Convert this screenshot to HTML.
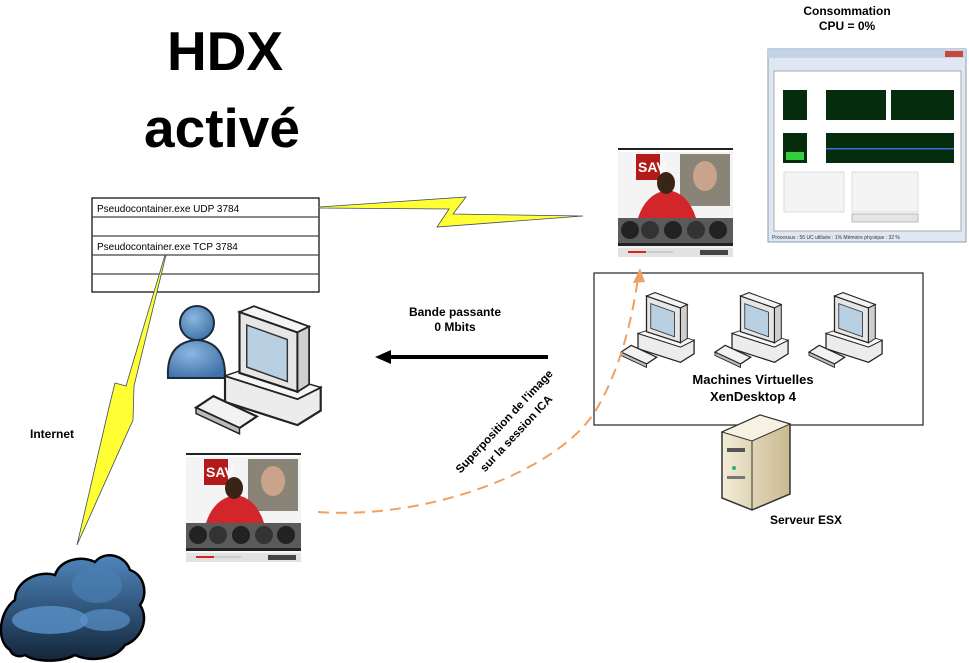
<!DOCTYPE html>
<html><head><meta charset="utf-8"><style>
body{margin:0;background:#fff;}
svg{display:block;font-family:"Liberation Sans",Arial,sans-serif;}
</style></head><body>
<svg width="969" height="663" viewBox="0 0 969 663" xmlns="http://www.w3.org/2000/svg">
<defs>
<linearGradient id="cl" x1="0" y1="0" x2="0" y2="1"><stop offset="0" stop-color="#4f86bd"/><stop offset="1" stop-color="#13253a"/></linearGradient>
<radialGradient id="usr" cx="0.4" cy="0.35" r="0.7"><stop offset="0" stop-color="#8bb6e0"/><stop offset="1" stop-color="#3f72a8"/></radialGradient>
<linearGradient id="srv" x1="0" y1="0" x2="1" y2="0"><stop offset="0" stop-color="#f3ecd6"/><stop offset="1" stop-color="#c8b990"/></linearGradient>
<g id="pc">
  <polygon points="20,44 70,60 86,52 86,68 70,78 20,62" fill="#ececec" stroke="#222" stroke-width="1.5"/>
  <polygon points="20,44 38,38 86,52 70,60" fill="#f7f7f7" stroke="#222"/>
  <polygon points="30,0 70,14 70,55 30,42" fill="#e6e6e6" stroke="#222" stroke-width="1.5"/>
  <polygon points="30,0 40,-4 78,10 70,14" fill="#f4f4f4" stroke="#222" stroke-width="1.2"/>
  <polygon points="70,14 78,10 78,50 70,55" fill="#cfcfcf" stroke="#222" stroke-width="1.2"/>
  <polygon points="35,9 63,19 63,48 35,38" fill="#b9cfe2" stroke="#333"/>
  <polygon points="0,66 12,58 42,72 30,80" fill="#f2f2f2" stroke="#222" stroke-width="1.5"/>
  <polygon points="0,66 30,80 30,84 0,70" fill="#bbb" stroke="#222"/>
</g>
<g id="vid">
  <rect x="0" y="0" width="115" height="2" fill="#222"/>
  <rect x="0" y="4" width="115" height="96" fill="#f4f4f4"/>
  <rect x="62" y="6" width="50" height="52" fill="#8a8478"/>
  <ellipse cx="87" cy="28" rx="12" ry="15" fill="#c9a48a"/>
  <rect x="18" y="6" width="24" height="26" fill="#b31b1b"/>
  <text x="20" y="24" font-size="14" font-weight="bold" fill="#fff">SAV</text>
  <path d="M20,70 Q28,45 50,42 Q70,45 78,70 Z" fill="#d3262a"/>
  <ellipse cx="48" cy="35" rx="9" ry="11" fill="#3a2418"/>
  <rect x="0" y="70" width="115" height="26" fill="#5a5a5a"/>
  <circle cx="12" cy="82" r="9" fill="#222"/><circle cx="32" cy="82" r="9" fill="#333"/><circle cx="55" cy="82" r="9" fill="#222"/><circle cx="78" cy="82" r="9" fill="#333"/><circle cx="100" cy="82" r="9" fill="#222"/>
  <rect x="0" y="95" width="115" height="3" fill="#222"/>
  <rect x="0" y="100" width="115" height="9" fill="#e2e2e2"/>
  <rect x="10" y="103" width="45" height="2" fill="#ccc"/><rect x="10" y="103" width="18" height="2" fill="#d22"/>
  <rect x="82" y="102" width="28" height="5" fill="#444"/>
</g>
</defs>

<text x="225" y="70" font-size="55" font-weight="bold" text-anchor="middle">HDX</text>
<text x="222" y="147" font-size="55" font-weight="bold" text-anchor="middle">activé</text>

<text x="847" y="15" font-size="12" font-weight="bold" text-anchor="middle">Consommation</text>
<text x="847" y="30" font-size="12" font-weight="bold" text-anchor="middle">CPU = 0%</text>

<!-- table -->
<g stroke="#444" stroke-width="1.2" fill="none">
<rect x="92" y="198" width="227" height="94" stroke="#000"/>
<line x1="92" y1="217" x2="319" y2="217"/><line x1="92" y1="236" x2="319" y2="236"/><line x1="92" y1="255" x2="319" y2="255"/><line x1="92" y1="274" x2="319" y2="274"/>
</g>
<text x="97" y="212" font-size="10">Pseudocontainer.exe UDP 3784</text>
<text x="97" y="250" font-size="10">Pseudocontainer.exe TCP 3784</text>

<!-- bolts -->
<polygon points="319,207 466,197 453,214 583,216 437,227 449,209 319,208" fill="#ffff33" stroke="#3d4a6a" stroke-width="0.8"/>
<polygon points="166,255 134,386 133,420 77,545 110,403 115,383 126,386 165,255" fill="#ffff33" stroke="#3d4a6a" stroke-width="0.8"/>

<!-- task manager -->
<rect x="768" y="49" width="198" height="193" fill="#dfe8f2" stroke="#8a9bb0"/>
<rect x="768" y="49" width="198" height="9" fill="#c2d4e6"/>
<rect x="945" y="51" width="18" height="6" fill="#c9473c"/>
<rect x="774" y="71" width="187" height="160" fill="#fff" stroke="#aaa"/>
<rect x="783" y="90" width="24" height="30" fill="#062c0e"/><rect x="826" y="90" width="60" height="30" fill="#062c0e"/><rect x="891" y="90" width="63" height="30" fill="#062c0e"/>
<rect x="783" y="133" width="24" height="30" fill="#062c0e"/><rect x="786" y="152" width="18" height="8" fill="#2fd03c"/>
<rect x="826" y="133" width="128" height="30" fill="#062c0e"/><rect x="826" y="148" width="128" height="1.5" fill="#3a6ed8"/>
<rect x="784" y="172" width="60" height="40" fill="#f4f4f4" stroke="#ddd"/><rect x="852" y="172" width="66" height="40" fill="#f4f4f4" stroke="#ddd"/><rect x="852" y="214" width="66" height="8" fill="#e4e4e4" stroke="#bbb"/>
<text x="772" y="239" font-size="5" fill="#333">Processus : 56     UC utilisée : 1%      Mémoire physique : 32 %</text>

<!-- top video -->
<use href="#vid" x="618" y="148"/>

<!-- VM box -->
<rect x="594" y="273" width="329" height="152" fill="#fff" stroke="#222" stroke-width="1.2"/>
<use href="#pc" transform="translate(621,296) scale(0.85)"/>
<use href="#pc" transform="translate(715,296) scale(0.85)"/>
<use href="#pc" transform="translate(809,296) scale(0.85)"/>
<text x="753" y="384" font-size="13" font-weight="bold" text-anchor="middle">Machines Virtuelles</text>
<text x="753" y="401" font-size="13" font-weight="bold" text-anchor="middle">XenDesktop 4</text>

<!-- server -->
<polygon points="722,432 760,415 790,424 790,494 752,510 722,498" fill="url(#srv)" stroke="#333" stroke-width="1.5"/>
<polygon points="722,432 760,415 790,424 752,441" fill="#f6f1e2" stroke="#333"/>
<line x1="752" y1="441" x2="752" y2="510" stroke="#333"/>
<rect x="727" y="448" width="18" height="4" fill="#555"/><rect x="727" y="476" width="18" height="3" fill="#777"/><circle cx="734" cy="468" r="2" fill="#3a8"/>
<text x="770" y="524" font-size="12" font-weight="bold">Serveur ESX</text>

<!-- arrow -->
<line x1="548" y1="357" x2="388" y2="357" stroke="#000" stroke-width="4"/>
<polygon points="375,357 391,350 391,364" fill="#000"/>
<text x="455" y="316" font-size="12" font-weight="bold" text-anchor="middle">Bande passante</text>
<text x="455" y="331" font-size="12" font-weight="bold" text-anchor="middle">0 Mbits</text>

<!-- orange dashed -->
<path d="M318,512 C430,520 560,470 596,410 C620,370 632,320 638,278" fill="none" stroke="#f0a060" stroke-width="2" stroke-dasharray="11,7"/>
<polygon points="640,268 633,283 645,282" fill="#f0a060"/>
<text transform="translate(507,424) rotate(-47)" font-size="11.5" font-weight="bold" text-anchor="middle">Superposition de l'image</text>
<text transform="translate(519,436) rotate(-47)" font-size="11.5" font-weight="bold" text-anchor="middle">sur la session ICA</text>

<!-- user + pc -->
<circle cx="197" cy="323" r="17" fill="url(#usr)" stroke="#1d2a3a" stroke-width="2"/>
<path d="M168,378 Q166,342 197,340 Q226,342 225,378 Z" fill="url(#usr)" stroke="#1d2a3a" stroke-width="2"/>
<use href="#pc" transform="translate(196,312) scale(1.45)"/>

<text x="30" y="438" font-size="12" font-weight="bold">Internet</text>

<!-- bottom video -->
<use href="#vid" x="186" y="453"/>

<!-- cloud -->
<path d="M10,650 C-5,640 0,610 15,600 C15,580 40,570 55,575 C60,560 80,555 95,562 C105,550 125,555 130,570 C145,575 148,595 140,605 C150,620 140,640 125,645 C115,660 90,662 75,655 C60,663 35,662 25,655 C18,658 12,655 10,650 Z" fill="url(#cl)" stroke="#000" stroke-width="2.5"/>
<ellipse cx="50" cy="620" rx="38" ry="14" fill="#5a92c9" opacity="0.8"/>
<ellipse cx="105" cy="620" rx="25" ry="11" fill="#5a92c9" opacity="0.7"/>
<ellipse cx="97" cy="585" rx="25" ry="18" fill="#4b7fb4" opacity="0.7"/>
</svg>
</body></html>
